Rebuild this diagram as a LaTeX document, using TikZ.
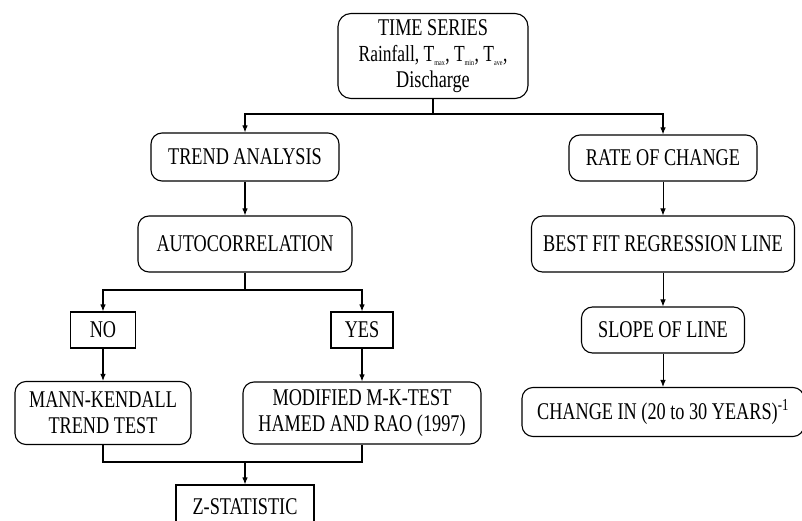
\documentclass[tikz,border=0pt]{standalone}
\usepackage{fontspec}
\setmainfont[FakeStretch=0.76]{Liberation Serif}
\usetikzlibrary{arrows.meta}
\newcommand{\tsub}[1]{\textsubscript{\fontsize{8}{8}\selectfont #1}}
\begin{document}
\begin{tikzpicture}[x=1pt,y=-1pt,line width=1.1pt,
    rbox/.style={draw,rounded corners=11pt,align=center,inner sep=0pt,
      font=\fontsize{24}{26}\selectfont},
    sbox/.style={draw,align=center,inner sep=0pt,
      font=\fontsize{24}{26}\selectfont},
    arr/.style={-{Latex[length=7pt,width=5.5pt]}}]
      \useasboundingbox (0,0) rectangle (802,521);
      \clip (0,0) rectangle (802,521);
      \node[rbox,rounded corners=13pt,minimum width=190pt,minimum height=85pt] (ts) at (433,56)
        {TIME SERIES\\{\fontsize{23}{26}\selectfont Rainfall, T\tsub{max}, T\tsub{min}, T\tsub{ave},}\\Discharge};
      \node[rbox,minimum width=188pt,minimum height=48pt] (trend) at (245,157) {TREND ANALYSIS};
      \node[rbox,minimum width=214pt,minimum height=56pt] (auto) at (245,244) {AUTOCORRELATION};
      \node[sbox,minimum width=65pt,minimum height=36pt] (no) at (103,330) {NO};
      \node[sbox,minimum width=62pt,minimum height=36pt] (yes) at (362,330) {YES};
      \node[rbox,minimum width=176pt,minimum height=63pt] (mk) at (103,413) {MANN-KENDALL\\TREND TEST};
      \node[rbox,minimum width=238pt,minimum height=62pt] (mod) at (362,413) {MODIFIED M-K-TEST\\HAMED AND RAO (1997)};
      \node[sbox,minimum width=138pt,minimum height=44pt] (z) at (245,507) {Z-STATISTIC};
      \node[rbox,minimum width=188pt,minimum height=46pt] (rate) at (663,158) {RATE OF CHANGE};
      \node[rbox,minimum width=263pt,minimum height=56pt] (best) at (663,244) {BEST FIT REGRESSION LINE};
      \node[rbox,minimum width=163pt,minimum height=46pt] (slope) at (663,330) {SLOPE OF LINE};
      \node[rbox,minimum width=282pt,minimum height=49pt] (change) at (663,412) {CHANGE IN (20 to 30 YEARS)\textsuperscript{-1}};
      \coordinate (tsj) at (433,114);
      \coordinate (acj) at (245,290);
      \coordinate (zj) at (245,462);
      \draw[arr] (ts.south) -- (tsj) -| (trend.north);
      \draw[arr] (tsj) -| (rate.north);
      \draw[arr] (trend) -- (auto);
      \draw[arr] (auto.south) -- (acj) -| (no.north);
      \draw[arr] (acj) -| (yes.north);
      \draw[arr] (no) -- (mk);
      \draw[arr] (yes) -- (mod);
      \draw (mk.south) |- (zj) -| (mod.south);
      \draw[arr] (zj) -- (z.north);
      \draw[arr,line width=0.8pt] (rate) -- (best);
      \draw[arr,line width=0.8pt] (best) -- (slope);
      \draw[arr,line width=0.8pt] (slope) -- (change);
    \end{tikzpicture}
\end{document}
